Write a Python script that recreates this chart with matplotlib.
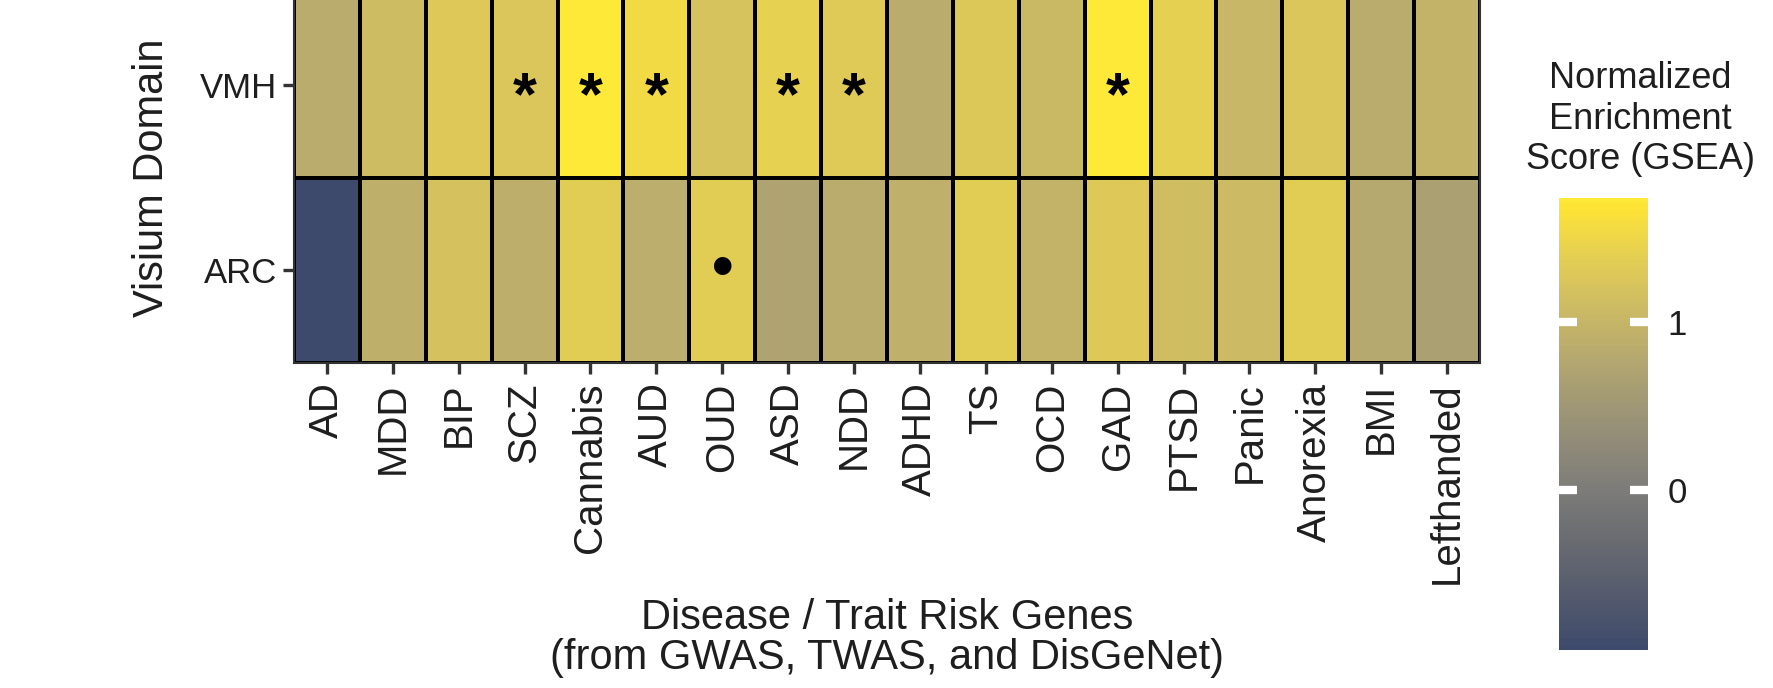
import numpy as np
import matplotlib
matplotlib.use("Agg")
import matplotlib.pyplot as plt
from matplotlib.colors import ListedColormap, Normalize

plt.rcParams["font.family"] = ["Liberation Sans", "DejaVu Sans"]

traits = ["AD", "MDD", "BIP", "SCZ", "Cannabis", "AUD", "OUD", "ASD", "NDD",
          "ADHD", "TS", "OCD", "GAD", "PTSD", "Panic", "Anorexia", "BMI", "Lefthanded"]
domains = ["VMH", "ARC"]

# normalized enrichment scores, one list per Visium domain
nes_vmh = [0.85, 1.10, 1.30, 1.25, 1.74, 1.55, 1.22, 1.42, 1.32,
           0.85, 1.28, 1.05, 1.72, 1.40, 1.02, 1.25, 0.84, 0.97]
nes_arc = [-0.95, 0.90, 1.20, 0.88, 1.36, 0.87, 1.36, 0.72, 0.85,
           0.92, 1.36, 0.96, 1.30, 1.12, 1.08, 1.36, 0.80, 0.66]

# significance marks
sig_vmh = ["", "", "", "*", "*", "*", "", "*", "*",
           "", "", "", "*", "", "", "", "", ""]
sig_arc = ["", "", "", "", "", "", "•", "", "",
           "", "", "", "", "", "", "", "", ""]

nes = np.array([nes_vmh, nes_arc])
sig = [sig_vmh, sig_arc]

# cividis centred on 0 (symmetric limits), cut to the data range
lim = np.abs(nes).max()
lo, hi = nes.min(), nes.max()
base = plt.get_cmap("cividis")
cmap = ListedColormap(base(np.linspace(0.5 + lo / (2 * lim), 0.5 + hi / (2 * lim), 256)))
norm = Normalize(lo, hi)

fig = plt.figure(figsize=(17.74, 6.88), dpi=100)
ax = fig.add_axes([0.1657, 0.4724, 0.6686, 0.5378])

mesh = ax.pcolormesh(nes, cmap=cmap, norm=norm, edgecolors="black", linewidth=1.5)
ax.set_xlim(0, len(traits))
ax.set_ylim(len(domains), 0)

sig_size = {"*": 44, "•": 44}
sig_dy = {"*": 0.07, "•": 0.0}
for i, row in enumerate(sig):
    for j, s in enumerate(row):
        if s:
            ax.text(j + 0.5, i + 0.5 + sig_dy[s], s, ha="center", va="center",
                    fontsize=sig_size[s], fontweight="bold", color="black")

ax.set_xticks(np.arange(len(traits)) + 0.5)
ax.set_xticklabels(traits, rotation=90, fontsize=29, color="#1e1e1e")
ax.set_yticks(np.arange(len(domains)) + 0.5)
ax.set_yticklabels(domains, fontsize=25, color="#1e1e1e")
ax.tick_params(axis="both", length=8, width=2.4, color="#333333")
ax.tick_params(axis="x", pad=6)
ax.tick_params(axis="y", pad=4)
for sp in ax.spines.values():
    sp.set_color("#333333")
    sp.set_linewidth(1.5)

ax.set_xlabel("Disease / Trait Risk Genes\n(from GWAS, TWAS, and DisGeNet)",
              fontsize=30, color="#1e1e1e", linespacing=1.0, labelpad=10)
ax.set_ylabel("Visium Domain", fontsize=30, color="#1e1e1e", labelpad=20)

# colour bar with white notches at the ticks
cax = fig.add_axes([0.8788, 0.0552, 0.0502, 0.657])
cbar = fig.colorbar(mesh, cax=cax, ticks=[0, 1])
cbar.outline.set_visible(False)
cax.tick_params(direction="in", left=True, right=True, color="white",
                length=13, width=6, labelsize=25, pad=14, labelcolor="#1e1e1e")
cax.set_yticklabels(["0", "1"])

fig.text(0.9245, 0.827, "Normalized\nEnrichment\nScore (GSEA)", ha="center",
         va="center", fontsize=26, color="#1e1e1e", linespacing=1.2)

fig.savefig("out.png", dpi=100, facecolor="white")
